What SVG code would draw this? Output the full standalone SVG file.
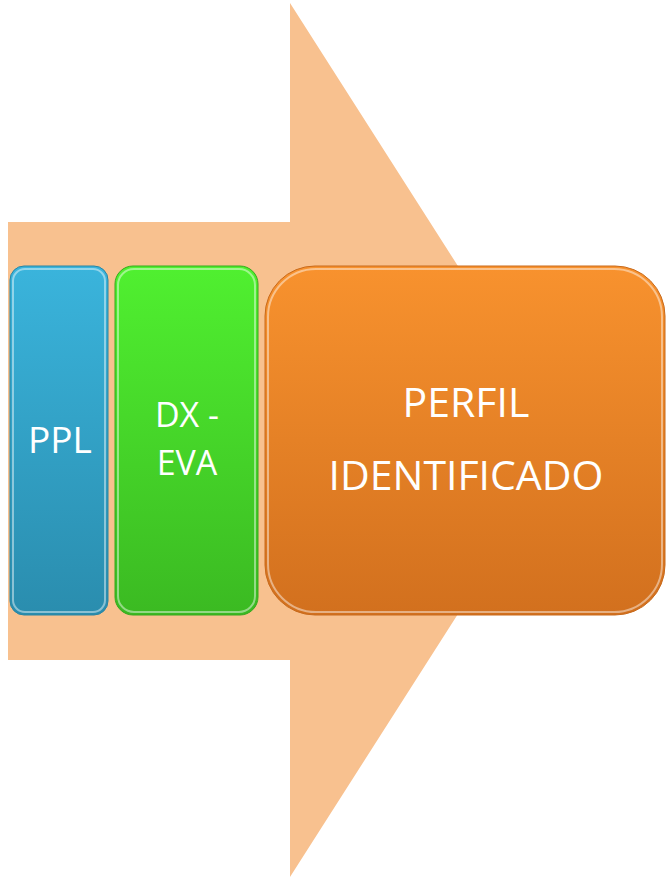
<svg xmlns="http://www.w3.org/2000/svg" width="668" height="877" viewBox="0 0 668 877">
<defs>
<linearGradient id="gB" x1="0" y1="0" x2="0" y2="1"><stop offset="0" stop-color="#3AB4DC"/><stop offset="1" stop-color="#2A8DAE"/></linearGradient>
<linearGradient id="gG" x1="0" y1="0" x2="0" y2="1"><stop offset="0" stop-color="#50F030"/><stop offset="1" stop-color="#3BBA22"/></linearGradient>
<linearGradient id="gO" x1="0" y1="0" x2="0" y2="1"><stop offset="0" stop-color="#F8922E"/><stop offset="1" stop-color="#D2701E"/></linearGradient>
<style>
.t{font-family:"Open Sans","Liberation Sans",sans-serif;fill:#FFFFFF;text-anchor:middle}
.hl{fill:none;stroke:#FFFFFF;stroke-opacity:0.45;stroke-width:2}
</style>
</defs>
<g id="arrow">
<path d="M8,222 H290 V3 L569,440 L290,877 V660 H8 Z" fill="#F8C18F"/>
</g>
<g id="ppl">
<rect x="10" y="266" width="98" height="349" rx="14" fill="url(#gB)" stroke="#2A85A3" stroke-width="1"/>
<rect x="13" y="269" width="92" height="343" rx="12" class="hl"/>
<text class="t" x="60" y="453" font-size="37">PPL</text>
</g>
<g id="dxeva">
<rect x="115" y="266" width="143" height="349" rx="18" fill="url(#gG)" stroke="#37A81F" stroke-width="1"/>
<rect x="118" y="269" width="137" height="343" rx="16" class="hl"/>
<text class="t" x="187" y="427" font-size="34">DX -</text>
<text class="t" x="187" y="475" font-size="34">EVA</text>
</g>
<g id="perfil">
<rect x="265" y="266" width="400" height="349" rx="50" fill="url(#gO)" stroke="#C86A1C" stroke-width="1"/>
<rect x="268" y="269" width="394" height="343" rx="48" class="hl"/>
<text class="t" x="466" y="417" font-size="41">PERFIL</text>
<text class="t" x="466" y="490" font-size="41">IDENTIFICADO</text>
</g>
<g id="connectors"/>
</svg>
